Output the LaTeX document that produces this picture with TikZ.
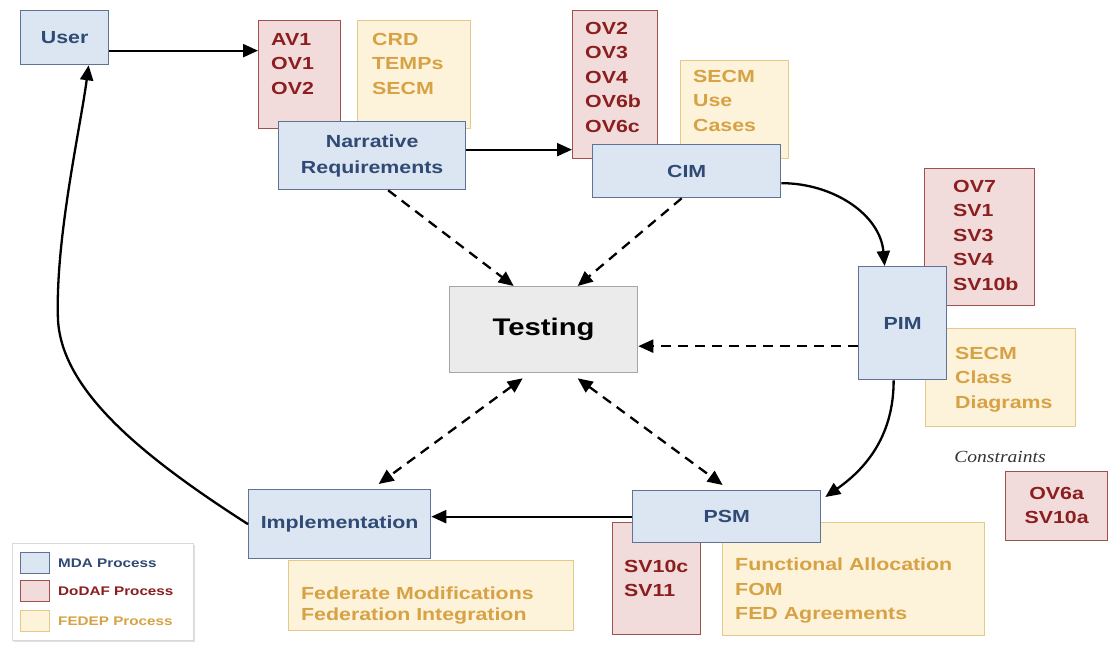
\documentclass[tikz,border=0pt]{standalone}
\usepackage{fontspec}
\setmainfont{Liberation Sans}[FakeStretch=1.22]
\newfontfamily\consfont{Liberation Serif}[FakeStretch=1.15]
\usetikzlibrary{arrows.meta,shadows}
\definecolor{bfill}{HTML}{DCE6F2}
\definecolor{bdraw}{HTML}{5F7396}
\definecolor{btext}{HTML}{2F4A74}
\definecolor{rfill}{HTML}{F2DCDB}
\definecolor{rdraw}{HTML}{A0504D}
\definecolor{rtext}{HTML}{8B1E1E}
\definecolor{ofill}{HTML}{FDF2DA}
\definecolor{odraw}{HTML}{E3C98A}
\definecolor{otext}{HTML}{D6A244}
\definecolor{tfill}{HTML}{EBEBEB}
\definecolor{tdraw}{HTML}{A6A6A6}
\begin{document}
\begin{tikzpicture}[x=1pt,y=-1pt,
  box/.style={draw, rectangle, line width=1.3pt, inner sep=0pt, anchor=north west},
  mda/.style={box, draw=bdraw, fill=bfill, text=btext, align=center,
    font=\bfseries\fontsize{17.5}{26}\selectfont},
  dod/.style={box, draw=rdraw, fill=rfill},
  fed/.style={box, draw=odraw, fill=ofill},
  dtxt/.style={anchor=north west, inner sep=0pt, text=rtext, align=left,
    font=\bfseries\fontsize{17.5}{24.5}\selectfont},
  ftxt/.style={anchor=north west, inner sep=0pt, text=otext, align=left,
    font=\bfseries\fontsize{17.5}{24.5}\selectfont},
  tip/.tip={Triangle[length=15pt,width=13pt]},
  arr/.style={line width=2.3pt, -tip},
  darr/.style={arr, dash pattern=on 10pt off 7pt},
  ddarr/.style={darr, tip-tip},
  legtxt/.style={anchor=west, inner sep=0pt, font=\bfseries\fontsize{12.5}{14}\selectfont}
]
\useasboundingbox (0,0) rectangle (1109,645);

% DoDAF and FEDEP boxes (behind)
\node[dod, minimum width=82pt, minimum height=108pt] (r1) at (258,20) {};
\node[fed, minimum width=113pt, minimum height=108pt] (o1) at (357,20) {};
\node[dod, minimum width=85pt, minimum height=148pt] (r2) at (572,10) {};
\node[fed, minimum width=108pt, minimum height=98pt] (o2) at (680,60) {};
\node[dod, minimum width=110pt, minimum height=137pt] (r3) at (924,168) {};
\node[fed, minimum width=150pt, minimum height=98pt] (o3) at (925,328) {};
\node[dod, minimum width=102pt, minimum height=69pt] (r4) at (1005,471) {};
\node[dod, minimum width=88pt, minimum height=112pt] (r5) at (612,522) {};
\node[fed, minimum width=262pt, minimum height=113pt] (o5) at (722,522) {};
\node[fed, minimum width=285pt, minimum height=70pt] (o4) at (288,560) {};

\node[dtxt] (t1) at ([shift={(13pt,-13pt)}]r1.north west) {AV1\\OV1\\OV2};
\node[ftxt] (t2) at ([shift={(15pt,-13pt)}]o1.north west) {CRD\\TEMPs\\SECM};
\node[dtxt] (t3) at ([shift={(13pt,-12pt)}]r2.north west) {OV2\\OV3\\OV4\\OV6b\\OV6c};
\node[ftxt] (t4) at ([shift={(13pt,-10pt)}]o2.north west) {SECM\\Use\\Cases};
\node[dtxt] (t5) at ([shift={(29pt,-12pt)}]r3.north west) {OV7\\SV1\\SV3\\SV4\\SV10b};
\node[ftxt] (t6) at ([shift={(30pt,-19pt)}]o3.north west) {SECM\\Class\\Diagrams};
\node[dtxt, anchor=north, align=center] (t7) at ([yshift=-16pt]r4.north) {OV6a\\SV10a};
\node[dtxt] (t8) at ([shift={(12pt,-38pt)}]r5.north west) {SV10c\\SV11};
\node[ftxt] (t9) at ([shift={(13pt,-36pt)}]o5.north west) {Functional Allocation\\FOM\\FED Agreements};
\node[ftxt, font=\bfseries\fontsize{17.5}{20.5}\selectfont] (t10) at ([shift={(13pt,-27pt)}]o4.north west) {Federate Modifications\\Federation Integration};

\node[text=black!80, font=\consfont\itshape\fontsize{17}{20}\selectfont] (cons) at (1000,457) {Constraints};

% MDA boxes
\node[mda, minimum width=88pt, minimum height=54pt] (user) at (20,10) {User};
\node[mda, minimum width=187pt, minimum height=68pt] (narr) at (278,121) {Narrative\\Requirements};
\node[mda, minimum width=188pt, minimum height=53pt] (cim) at (592,144) {CIM};
\node[mda, minimum width=88pt, minimum height=113pt] (pim) at (858,266) {PIM};
\node[mda, minimum width=188pt, minimum height=52pt] (psm) at (632,490) {PSM};
\node[mda, minimum width=182pt, minimum height=69pt] (impl) at (248,489) {Implementation};
\node[box, draw=tdraw, fill=tfill, minimum width=188pt, minimum height=86pt,
  font=\bfseries\fontsize{24}{28}\selectfont] (test) at (449,286) {Testing};

% solid connectors
\draw[arr] ([yshift=-13pt]user.east) -- ([yshift=-13pt]user.east -| r1.west);
\draw[arr] ([yshift=6pt]narr.east) -- ([yshift=6pt]narr.east -| r2.west);
\draw[arr] ([yshift=-12pt]cim.east) to[out=0, in=95] ([xshift=-18pt]pim.north);
\draw[arr] ([xshift=-9pt]pim.south) to[out=-90, in=35] ([shift={(4pt,-7pt)}]psm.north east);
\draw[arr] (psm.west) -- (psm.west -| impl.east);
\draw[arr] (impl.west) .. controls (140,455) and (62,390) .. (58,320)
  .. controls (55,240) and (80,130) .. ([xshift=24pt]user.south);

% dashed connectors
\draw[darr] ([xshift=16pt]narr.south) -- ([xshift=-30pt]test.north);
\draw[darr] ([xshift=-5pt]cim.south) -- ([xshift=34pt]test.north);
\draw[darr] ([yshift=-23pt]pim.west) -- ([yshift=-23pt]pim.west -| test.east);
\draw[ddarr] ([xshift=-21pt,yshift=-5pt]test.south) -- ([xshift=39pt,yshift=5pt]impl.north);
\draw[ddarr] ([xshift=34pt,yshift=-5pt]test.south) -- ([xshift=-4pt,yshift=5pt]psm.north);

% legend
\node[box, draw=black!15, fill=white, line width=1pt, minimum width=181pt, minimum height=97pt,
  drop shadow={shadow xshift=1.5pt, shadow yshift=-1.5pt, opacity=0.25}] (leg) at (12,543) {};
\node[box, draw=bdraw, fill=bfill, line width=1pt, minimum width=29pt, minimum height=21pt] (s1) at (20,552) {};
\node[box, draw=rdraw, fill=rfill, line width=1pt, minimum width=29pt, minimum height=21pt] (s2) at (20,580) {};
\node[box, draw=odraw, fill=ofill, line width=1pt, minimum width=29pt, minimum height=21pt] (s3) at (20,610) {};
\node[legtxt, text=btext] (l1) at ([xshift=8pt]s1.east) {MDA Process};
\node[legtxt, text=rtext] (l2) at ([xshift=8pt]s2.east) {DoDAF Process};
\node[legtxt, text=otext] (l3) at ([xshift=8pt]s3.east) {FEDEP Process};
\end{tikzpicture}
\end{document}
